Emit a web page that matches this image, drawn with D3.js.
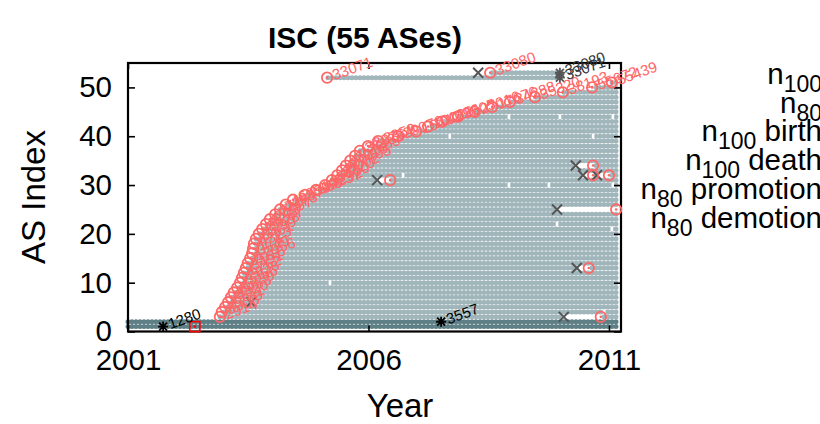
<!DOCTYPE html>
<html><head><meta charset="utf-8">
<script src="https://cdn.jsdelivr.net/npm/d3@7"></script>
<style>
body{margin:0;background:#fff}
svg{display:block}
text{font-family:"Liberation Sans",Arial,Helvetica,sans-serif}
</style>
</head><body>
<svg id="c" width="820" height="424"></svg>
<script>
// ---------------- data ----------------
const titleText = "ISC (55 ASes)";
const yearTicks = [2001, 2006, 2011];
const indexTicks = [0, 10, 20, 30, 40, 50];

// n100 rows (present the whole time)
const n100Index = [1, 2];
const n100Start = [2001.0, 2001.0];
const n100End   = [2011.22, 2011.22];

// n80 rows: index, AS number, first appearance, last appearance
const n80Index = [3,4,5,6,7,8,9,10,11,12,13,14,15,16,17,18,19,20,21,22,23,24,25,26,27,28,29,30,31,32,33,34,35,36,37,38,39,40,41,42,43,44,45,46,47,48,49,50,51,52,53];
const n80AS = ["2914","3303","1273","5511","3320","6453","1239","3356","2828","6762","3491","7018","12956","3549","174","4323","6461","1299","8928","3257","209","2497","7473","4637","6939","1668","13237","3292","5400","8220","9002","20485","3216","12389","31133","20764","8359","29076","15412","10026","4826","9505","27016","17676","34288","35320","38193","55672","55439","33071","33080"];
const n80Birth = [2002.91,2002.95,2003.02,2003.08,2003.14,2003.20,2003.27,2003.33,2003.37,2003.41,2003.45,2003.49,2003.54,2003.58,2003.60,2003.62,2003.66,2003.72,2003.79,2003.87,2003.95,2004.06,2004.16,2004.28,2004.43,2004.68,2004.91,2005.10,2005.24,2005.35,2005.45,2005.53,2005.62,2005.72,2005.82,2005.99,2006.20,2006.61,2006.99,2007.24,2007.53,2007.86,2008.21,2008.57,2008.94,2009.46,2010.04,2010.65,2011.06,2005.14,2008.53];
const n80End = [2011.22,2011.22,2011.22,2011.22,2011.22,2011.22,2011.22,2011.22,2011.22,2011.22,2011.22,2011.22,2011.22,2011.22,2011.22,2011.22,2011.22,2011.22,2011.22,2011.22,2011.22,2011.22,2011.22,2011.22,2011.22,2011.22,2011.22,2011.22,2011.22,2011.22,2011.22,2011.22,2011.22,2011.22,2011.22,2011.22,2011.22,2011.22,2011.22,2011.22,2011.22,2011.22,2011.22,2011.22,2011.22,2011.22,2011.22,2011.22,2011.22,2009.98,2009.98];

// absences inside a row: index, from, to
const gapIndex = [3, 13, 25, 31, 32, 32, 34];
const gapFrom  = [2010.06, 2010.33, 2009.92, 2006.18, 2010.46, 2010.75, 2010.31];
const gapTo    = [2010.83, 2010.58, 2011.15, 2006.45, 2010.67, 2011.00, 2010.67];

// n80 demotions (x marks)
const demoIndex = [3, 13, 25, 31, 32, 32, 34, 53, 6];
const demoYear  = [2010.06, 2010.33, 2009.92, 2006.18, 2010.46, 2010.75, 2010.31, 2008.28, 2003.56];

// n80 re-promotions (circles without label)
const repromoIndex = [3, 13, 25, 31, 32, 32, 34];
const repromoYear  = [2010.83, 2010.58, 2011.15, 2006.45, 2010.67, 2011.00, 2010.67];

// n100 births (black asterisks)
const birthIndex = [1, 2];
const birthYear  = [2001.73, 2007.51];
const birthAS    = ["1280", "3557"];

// n100 deaths (grey asterisks)
const deathIndex = [53, 52];
const deathYear  = [2009.98, 2009.98];
const deathAS    = ["33080", "33071"];

// red square marker
const squareIndex = [1];
const squareYear  = [2002.39];

// single missing samples (white holes)
const holeYear  = [2005.20, 2006.72, 2007.69, 2008.92, 2009.98, 2011.08, 2010.67, 2008.92, 2009.75, 2011.08, 2009.92, 2011.06, 2010.90];
const holeIndex = [10, 32, 40, 44, 44, 44, 40, 30, 30, 30, 22, 21, 4];

// legend
const legendSub  = ["100", "80", "100", "100", "80", "80"];
const legendRest = ["", "", " birth", " death", " promotion", " demotion"];

// ---------------- drawing ----------------
const svg = d3.select("#c");
const L = 128, R = 621, T = 63, B = 331.5;
const x = d3.scaleLinear().domain([2001, 2011.25]).range([L, R]);
const y = d3.scaleLinear().domain([0, 55]).range([B, T]);

const cLight = "#a0b6bb", cDark = "#5f7f86", cRed = "#ff6666", cGrey = "#555";
const STEP = 4.0;

// build rows
const rows = [];
n100Index.forEach((r, i) => rows.push({idx: r, start: n100Start[i], end: n100End[i], col: cDark}));
n80Index.forEach((r, i) => rows.push({idx: r, start: n80Birth[i], end: n80End[i], col: cLight}));
function segments(row) {
  let s = [[row.start, row.end]];
  gapIndex.forEach((g, j) => {
    if (g !== row.idx) return;
    const a = gapFrom[j], b = gapTo[j];
    s = s.flatMap(([p, q]) => (b <= p || a >= q) ? [[p, q]] : [[p, a], [b, q]].filter(([u, v]) => v > u));
  });
  return s;
}
const segData = [];
rows.forEach(r => segments(r).forEach(([p, q]) => segData.push({idx: r.idx, p, q, col: r.col})));

const gRows = svg.append("g");
gRows.selectAll("line").data(segData).join("line")
  .attr("x1", d => x(d.p)).attr("x2", d => x(d.q) + 0.01)
  .attr("y1", d => y(d.idx)).attr("y2", d => y(d.idx))
  .attr("stroke", d => d.col).attr("stroke-width", 5.0)
  .attr("stroke-linecap", "round")
  .attr("stroke-dasharray", `0 ${STEP}`)
  .attr("stroke-dashoffset", d => ((x(d.p) - L) % STEP + STEP) % STEP);

// holes
svg.append("g").selectAll("rect").data(holeYear.map((h, i) => ({yr: h, idx: holeIndex[i]}))).join("rect")
  .attr("x", d => x(d.yr) - 1.3).attr("y", d => y(d.idx) - 2.4)
  .attr("width", 2.6).attr("height", 4.8).attr("fill", "#fff");

// border
svg.append("rect").attr("x", L).attr("y", T).attr("width", R - L).attr("height", B - T)
  .attr("fill", "none").attr("stroke", "#000").attr("stroke-width", 2.2);

// axes
function styleAxis(g, showText) {
  g.select(".domain").remove();
  g.selectAll(".tick line").attr("stroke", "#000").attr("stroke-width", 1.6);
  if (!showText) g.selectAll(".tick text").remove();
  else g.selectAll(".tick text").attr("font-size", 29.5).attr("fill", "#000")
        .style("font-family", '"Liberation Sans",Arial,sans-serif');
}
svg.append("g").attr("transform", `translate(0,${B})`)
  .call(d3.axisBottom(x).tickValues(yearTicks).tickFormat(d3.format("d")).tickSizeInner(-6).tickSizeOuter(0).tickPadding(18))
  .call(g => styleAxis(g, true));
svg.append("g").attr("transform", `translate(0,${T})`)
  .call(d3.axisTop(x).tickValues(yearTicks).tickSizeInner(-6).tickSizeOuter(0))
  .call(g => styleAxis(g, false));
svg.append("g").attr("transform", `translate(${L},0)`)
  .call(d3.axisLeft(y).tickValues(indexTicks).tickSizeInner(-7).tickSizeOuter(0).tickPadding(16))
  .call(g => styleAxis(g, true));
svg.append("g").attr("transform", `translate(${R},0)`)
  .call(d3.axisRight(y).tickValues(indexTicks).tickSizeInner(-7).tickSizeOuter(0))
  .call(g => styleAxis(g, false));

// markers
const gM = svg.append("g");
// red square
squareYear.forEach((s, i) => {
  const g = gM.append("g").attr("transform", `translate(${x(s)},${y(squareIndex[i])})`);
  g.append("rect").attr("x", -5).attr("y", -5).attr("width", 10).attr("height", 10)
    .attr("fill", "none").attr("stroke", "#f00").attr("stroke-width", 1.6);
  g.append("circle").attr("r", 1.3).attr("fill", "#f00");
});
// demotions X
gM.selectAll("path.demo").data(demoYear.map((d, i) => ({yr: d, idx: demoIndex[i]}))).join("path")
  .attr("class", "demo")
  .attr("transform", d => `translate(${x(d.yr)},${y(d.idx)})`)
  .attr("d", "M-5,-5L5,5M-5,5L5,-5").attr("stroke", cGrey).attr("stroke-width", 2).attr("fill", "none");
// promotions with labels
const promo = n80Index.map((r, i) => ({idx: r, yr: n80Birth[i], as: n80AS[i]}));
const pg = gM.selectAll("g.promo").data(promo).join("g").attr("class", "promo")
  .attr("transform", d => `translate(${x(d.yr)},${y(d.idx)})`);
pg.append("circle").attr("r", 5.2).attr("fill", "none").attr("stroke", cRed).attr("stroke-width", 1.8);
pg.append("circle").attr("r", 1.3).attr("fill", cRed);
pg.append("text").attr("transform", "rotate(-20)").attr("x", 6).attr("y", 5)
  .attr("font-size", 15).attr("fill", cRed).text(d => d.as);
// re-promotions
const rg = gM.selectAll("g.repromo").data(repromoYear.map((d, i) => ({yr: d, idx: repromoIndex[i]}))).join("g")
  .attr("class", "repromo").attr("transform", d => `translate(${x(d.yr)},${y(d.idx)})`);
rg.append("circle").attr("r", 5.2).attr("fill", "none").attr("stroke", cRed).attr("stroke-width", 1.8);
rg.append("circle").attr("r", 1.3).attr("fill", cRed);
// asterisk helper
const ast = "M-5,0H5M0,-5V5M-4,-4L4,4M-4,4L4,-4";
const bg = gM.selectAll("g.birth").data(birthYear.map((d, i) => ({yr: d, idx: birthIndex[i], as: birthAS[i]}))).join("g")
  .attr("class", "birth").attr("transform", d => `translate(${x(d.yr)},${y(d.idx)})`);
bg.append("path").attr("d", ast).attr("stroke", "#000").attr("stroke-width", 1.8);
bg.append("text").attr("transform", "rotate(-20)").attr("x", 6).attr("y", 5)
  .attr("font-size", 15).attr("fill", "#000").text(d => d.as);
const dg = gM.selectAll("g.death").data(deathYear.map((d, i) => ({yr: d, idx: deathIndex[i], as: deathAS[i]}))).join("g")
  .attr("class", "death").attr("transform", d => `translate(${x(d.yr)},${y(d.idx)})`);
dg.append("path").attr("d", ast).attr("stroke", cGrey).attr("stroke-width", 1.8);
dg.append("text").attr("transform", "rotate(-20)").attr("x", 6).attr("y", 5)
  .attr("font-size", 15).attr("fill", "#333").text(d => d.as);

// titles
svg.append("text").attr("x", 365).attr("y", 48).attr("text-anchor", "middle")
  .attr("font-size", 30).attr("font-weight", "bold").text(titleText);
svg.append("text").attr("transform", "translate(45,197) rotate(-90)").attr("text-anchor", "middle")
  .attr("font-size", 33).text("AS Index");
svg.append("text").attr("x", 400).attr("y", 417).attr("text-anchor", "middle")
  .attr("font-size", 33).text("Year");

// legend (text only; samples fall beyond the canvas)
const lg = svg.append("g");
legendSub.forEach((s, i) => {
  const t = lg.append("text").attr("x", 822).attr("y", 84 + i * 28.7)
    .attr("text-anchor", "end").attr("font-size", 29.5);
  t.append("tspan").text("n");
  t.append("tspan").attr("font-size", 23).attr("dy", 8).text(s);
  if (legendRest[i]) t.append("tspan").attr("dy", -8).text(legendRest[i]);
});
</script>
</body></html>
